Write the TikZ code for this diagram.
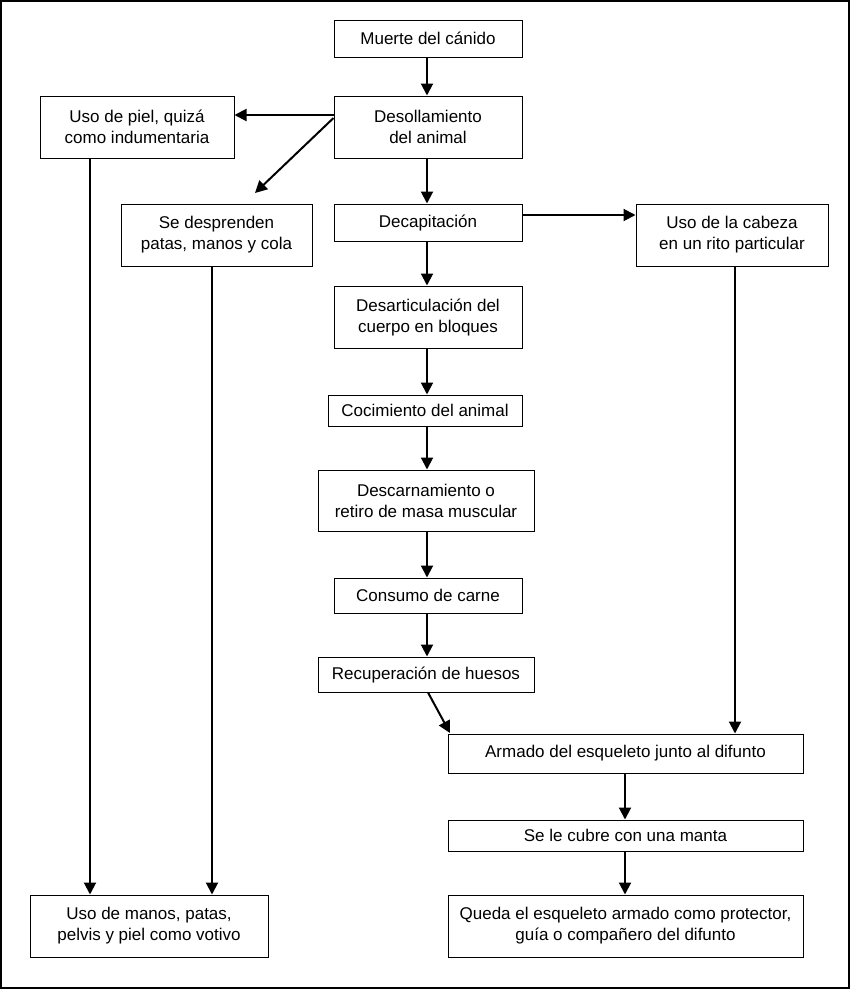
\documentclass[tikz,border=0pt]{standalone}
\usepackage{fontspec}
\setmainfont{Liberation Sans}
\usetikzlibrary{arrows.meta}
\begin{document}
\begin{tikzpicture}[x=1pt,y=-1pt,
  bx/.style={draw,line width=1pt,fill=white,align=center,inner sep=0pt,font=\fontsize{17}{21}\selectfont},
  ar/.style={line width=2pt,-{Triangle[length=12pt,width=12pt]}}]
\draw[line width=1.5pt,fill=white] (1,1) rectangle (849,988);
\useasboundingbox (0,0) rectangle (850,989);
\newcommand\bx[6]{\node[bx,minimum width=#4-#2,minimum height=#5-#3] (#1) at ({(#2+#4)/2},{(#3+#5)/2}) {#6};}
\bx{a}{334}{20}{522}{57}{Muerte del cánido}
\bx{b}{334}{96}{522}{158}{Desollamiento\\del animal}
\bx{c}{40}{96}{234}{158}{Uso de piel, quizá\\como indumentaria}
\bx{d}{121}{204}{312}{266}{Se desprenden\\patas, manos y cola}
\bx{e}{334}{204}{522}{241}{Decapitación}
\bx{f}{636}{204}{828}{266}{Uso de la cabeza\\en un rito particular}
\bx{g}{334}{286}{522}{348}{Desarticulación del\\cuerpo en bloques}
\bx{h}{328}{395}{522}{426}{Cocimiento del animal}
\bx{i}{318}{470}{534}{531}{Descarnamiento o\\retiro de masa muscular}
\bx{j}{334}{578}{522}{613}{Consumo de carne}
\bx{k}{318}{657}{534}{692}{Recuperación de huesos}
\bx{l}{448}{734}{803}{773}{Armado del esqueleto junto al difunto}
\bx{m}{448}{820}{803}{851}{Se le cubre con una manta}
\bx{n}{448}{895}{803}{957}{Queda el esqueleto armado como protector,\\guía o compañero del difunto}
\bx{o}{30}{895}{268}{957}{Uso de manos, patas,\\pelvis y piel como votivo}
\draw[ar] (a.south -| 427,0) -- (b.north -| 427,0);
\draw[ar] (b.west |- 0,115) -- (c.east |- 0,115);
\draw[ar] (b.west |- 0,118) -- (255,193);
\draw[ar] (b.south -| 427,0) -- (e.north -| 427,0);
\draw[ar] (e.east |- 0,215) -- (f.west |- 0,215);
\draw[ar] (e.south -| 427,0) -- (g.north -| 427,0);
\draw[ar] (g.south -| 427,0) -- (h.north -| 427,0);
\draw[ar] (h.south -| 427,0) -- (i.north -| 427,0);
\draw[ar] (i.south -| 427,0) -- (j.north -| 427,0);
\draw[ar] (j.south -| 427,0) -- (k.north -| 427,0);
\draw[ar] (k.south -| 428,0) -- (450,733);
\draw[ar] (f.south -| 735,0) -- (l.north -| 735,0);
\draw[ar] (l.south -| 625,0) -- (m.north -| 625,0);
\draw[ar] (m.south -| 625,0) -- (n.north -| 625,0);
\draw[ar] (c.south -| 90,0) -- (o.north -| 90,0);
\draw[ar] (d.south -| 212,0) -- (o.north -| 212,0);
\end{tikzpicture}
\end{document}
